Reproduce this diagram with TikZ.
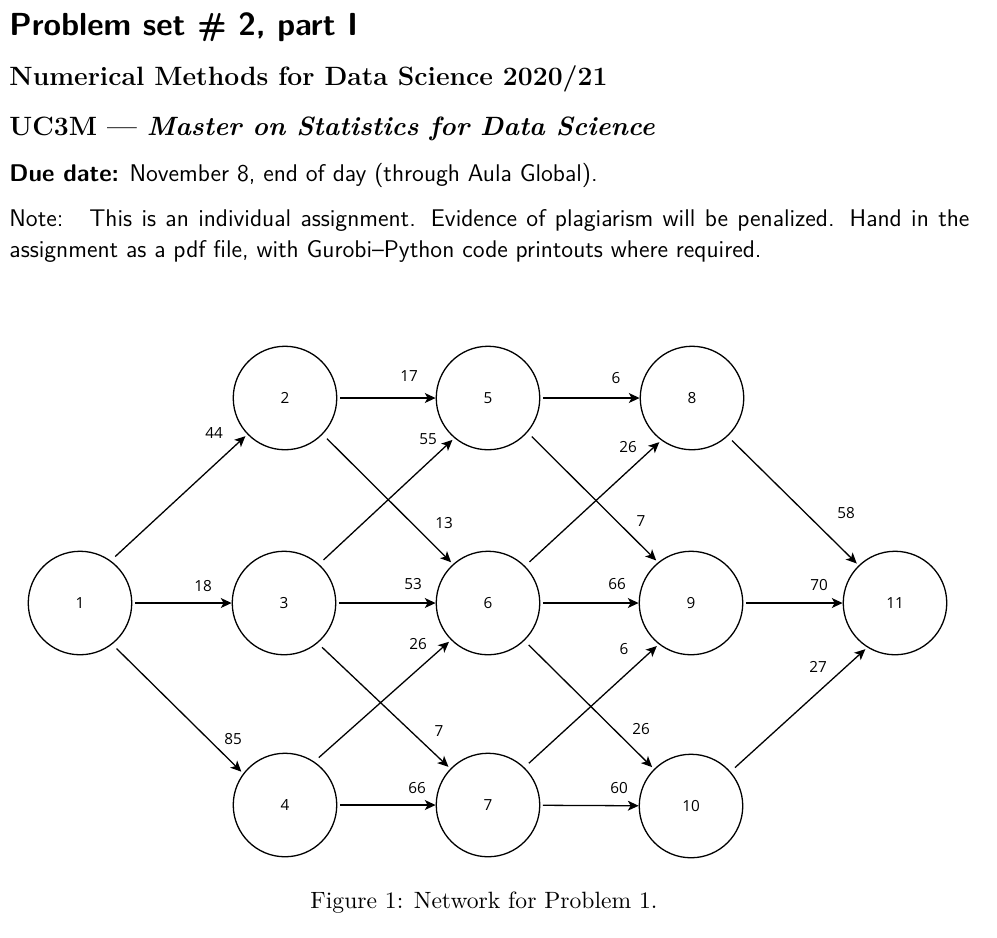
\documentclass[tikz,border=0pt]{standalone}
\usepackage{fontspec}
\newfontfamily\graphfont{Open Sans}
\usetikzlibrary{arrows.meta}
\newlength\pxl
\setlength\pxl{0.46404pt}
\begin{document}
\begin{tikzpicture}[x=0.46404pt,y=-0.46404pt,
  vtx/.style={circle,draw,line width=0.6pt,minimum size=103.5\pxl,inner sep=0pt,
    font=\graphfont\fontsize{7.1pt}{8pt}\selectfont},
  edge/.style={-{Stealth[length=5pt,width=4.6pt,inset=1.3pt]},line width=0.6pt},
  hedge/.style={edge,shorten <=1.2pt},
  dedge/.style={edge,shorten <=2.8pt,shorten >=1.2pt},
  lbl/.style={inner sep=0pt,font=\graphfont\fontsize{7.1pt}{8pt}\selectfont},
  txt/.style={anchor=base west,inner sep=0pt}]
\useasboundingbox (0,0) rectangle (997,937);
% header text
\node[txt] (title) at (9,35) {\sffamily\bfseries\fontsize{14.8pt}{18pt}\selectfont Problem set \# 2, part I};
\node[txt] (course) at (9,85) {\bfseries\fontsize{12.3pt}{14.5pt}\selectfont Numerical Methods for Data Science 2020/21};
\node[txt] (uni) at (9,135) {\bfseries\fontsize{12.3pt}{14.5pt}\selectfont UC3M --- \textit{Master on Statistics for Data Science}};
\node[txt] (due) at (9,181) {\sffamily\fontsize{11.2pt}{13.6pt}\selectfont\textbf{Due date:} November 8, end of day (through Aula Global).};
\node[txt] (note1) at (9,226) {\sffamily\fontsize{11.2pt}{13.6pt}\selectfont\makebox[960\pxl][s]{Note:\hspace{12pt}This is an individual assignment. Evidence of plagiarism will be penalized. Hand in the}};
\node[txt] (note2) at (9,257) {\sffamily\fontsize{11.2pt}{13.6pt}\selectfont assignment as a pdf file, with Gurobi--Python code printouts where required.};
\node[anchor=base,inner sep=0pt] (cap) at (484,908) {\fontsize{10.95pt}{13.6pt}\selectfont Figure 1: Network for Problem 1.};
% vertices
\node[vtx] (n1) at (80,603) {1};
\node[vtx] (n2) at (285,398) {2};
\node[vtx] (n3) at (284,603) {3};
\node[vtx] (n4) at (285,805) {4};
\node[vtx] (n5) at (488,398) {5};
\node[vtx] (n6) at (488,603) {6};
\node[vtx] (n7) at (488,805) {7};
\node[vtx] (n8) at (692,398) {8};
\node[vtx] (n9) at (691,603) {9};
\node[vtx] (n10) at (691,806) {10};
\node[vtx] (n11) at (895,603) {11};
% horizontal edges
\draw[hedge] (n1) -- (n3);
\draw[hedge] (n2) -- (n5);
\draw[hedge] (n3) -- (n6);
\draw[hedge] (n4) -- (n7);
\draw[hedge] (n5) -- (n8);
\draw[hedge] (n6) -- (n9);
\draw[hedge] (n7) -- (n10);
\draw[hedge] (n9) -- (n11);
% diagonal edges
\draw[dedge] (n1.54) -- (n2.224);
\draw[dedge] (n1.308) -- (n4.143);
\draw[dedge] (n2.316) -- (n6.132);
\draw[dedge] (n3.48) -- (n5.230);
\draw[dedge] (n3.310) -- (n7.136);
\draw[dedge] (n4.56) -- (n6.225);
\draw[dedge] (n5.319) -- (n9.129);
\draw[dedge] (n6.45) -- (n8.234);
\draw[dedge] (n6.314) -- (n10.135);
\draw[dedge] (n7.46) -- (n9.232);
\draw[dedge] (n8.313) -- (n11.134);
\draw[dedge] (n10.41) -- (n11.238);
% edge labels
\node[lbl] (l12) at (214,433) {44};
\node[lbl] (l13) at (203,586) {18};
\node[lbl] (l14) at (233,739) {85};
\node[lbl] (l25) at (409,376) {17};
\node[lbl] (l26) at (444,523) {13};
\node[lbl] (l35) at (428,439) {55};
\node[lbl] (l36) at (413,584) {53};
\node[lbl] (l37) at (439,731) {7};
\node[lbl] (l46) at (418,644) {26};
\node[lbl] (l47) at (417,788) {66};
\node[lbl] (l58) at (616,378) {6};
\node[lbl] (l59) at (641,521) {7};
\node[lbl] (l68) at (628,447) {26};
\node[lbl] (l69) at (617,584) {66};
\node[lbl] (l610) at (641,729) {26};
\node[lbl] (l79) at (624,649) {6};
\node[lbl] (l710) at (619,788) {60};
\node[lbl] (l811) at (846,513) {58};
\node[lbl] (l911) at (819,585) {70};
\node[lbl] (l1011) at (818,667) {27};
\end{tikzpicture}
\end{document}
